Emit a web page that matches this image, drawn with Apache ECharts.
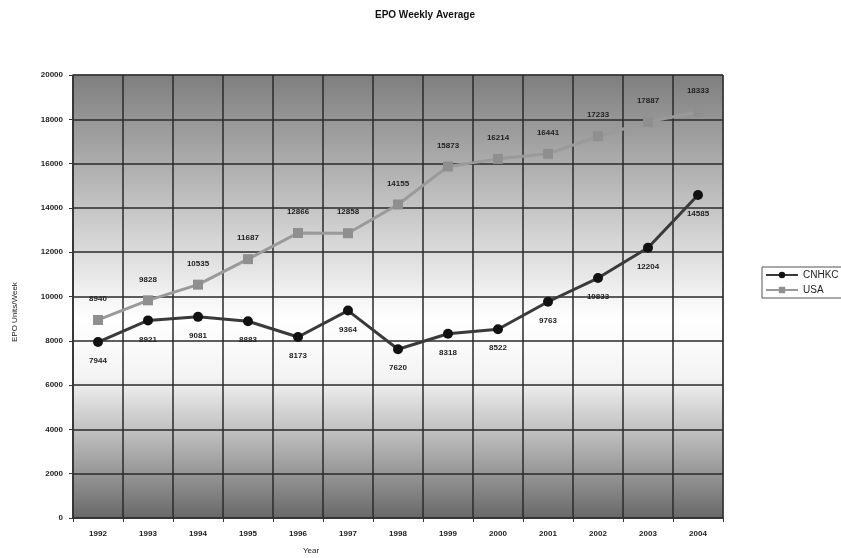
<!DOCTYPE html>
<html><head><meta charset="utf-8">
<script src="https://cdn.jsdelivr.net/npm/echarts@6/dist/echarts.min.js"></script>
<style>html,body{margin:0;padding:0;background:#fff}#c{width:841px;height:558px}</style>
</head><body><div id="c"></div>
<script>
const years = ['1992','1993','1994','1995','1996','1997','1998','1999','2000','2001','2002','2003','2004'];
const cnhkc = [7944, 8921, 9081, 8883, 8173, 9364, 7620, 8318, 8522, 9763, 10833, 12204, 14585];
const usa = [8940, 9828, 10535, 11687, 12866, 12858, 14155, 15873, 16214, 16441, 17233, 17887, 18333];
const yTicks = [0, 2000, 4000, 6000, 8000, 10000, 12000, 14000, 16000, 18000, 20000];

const chart = echarts.init(document.getElementById('c'), null, {renderer:'canvas'});
const font = 'Liberation Sans, Arial, sans-serif';
chart.setOption({
  animation:false,
  backgroundColor:'#ffffff',
  title:{text:'EPO Weekly Average', left:420, top:5, textAlign:'center',
    textStyle:{fontSize:10, fontWeight:'bold', color:'#111', fontFamily:font}},
  legend:{left:762, top:267, orient:'vertical', itemWidth:32, itemHeight:8, itemGap:5,
    padding:[3,3,3,3], borderColor:'#555', borderWidth:1, backgroundColor:'#fff',
    textStyle:{fontSize:10, color:'#222', fontFamily:font}, data:['CNHKC','USA']},
  grid:{left:73, right:118, top:75, bottom:40,
    show:true, borderColor:'#777', borderWidth:1,
    backgroundColor:new echarts.graphic.LinearGradient(0,0,0,1,[
      {offset:0,color:'#7e7e7e'},{offset:0.3,color:'#c4c4c4'},{offset:0.55,color:'#ffffff'},
      {offset:0.68,color:'#f4f4f4'},{offset:0.85,color:'#acacac'},{offset:1,color:'#686868'}])},
  xAxis:{type:'category', data:years, boundaryGap:true,
    axisLine:{lineStyle:{color:'#333', width:1.5}},
    axisTick:{show:true, length:4, lineStyle:{color:'#333'}},
    splitLine:{show:true, lineStyle:{color:'#2a2a2a', width:1.5}},
    axisLabel:{fontSize:8, color:'#222', fontWeight:'bold', margin:12, fontFamily:font}},
  yAxis:{type:'value', min:yTicks[0], max:yTicks[yTicks.length-1], interval:2000,
    axisLine:{show:true, lineStyle:{color:'#333', width:1.5}},
    axisTick:{show:true, length:4, lineStyle:{color:'#333'}},
    splitLine:{show:true, lineStyle:{color:'#2a2a2a', width:1.5}},
    axisLabel:{fontSize:8, color:'#222', fontWeight:'bold', margin:10, fontFamily:font,
      formatter:function(v){return String(v);}}},
  graphic:[
    {type:'text', left:303, top:547, style:{text:'Year', fill:'#222', font:'8px '+font}},
    {type:'text', x:11, y:342, rotation:Math.PI/2, style:{text:'EPO Units/Week', fill:'#222', font:'8px '+font}}
  ],
  series:[
    {name:'CNHKC', type:'line', data:cnhkc, symbol:'circle', symbolSize:10,
      lineStyle:{color:'#3a3a3a', width:3}, itemStyle:{color:'#111'},
      label:{show:true, position:'bottom', distance:10, fontSize:8, fontWeight:'bold', color:'#222', fontFamily:font}},
    {name:'USA', type:'line', data:usa, symbol:'rect', symbolSize:10,
      lineStyle:{color:'#9a9a9a', width:3}, itemStyle:{color:'#8f8f8f'},
      label:{show:true, position:'top', distance:12, fontSize:8, fontWeight:'bold', color:'#222', fontFamily:font}}
  ]
});
</script></body></html>
